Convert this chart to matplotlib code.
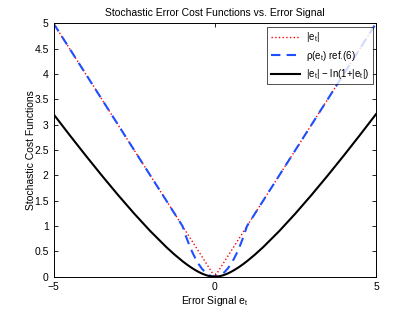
import matplotlib
matplotlib.use("Agg")
import matplotlib.pyplot as plt

# |e_t|
abs_e = [-5, 0, 5]
abs_v = [5, 0, 5]

# rho(e_t) ref.(6)
rho_e = [-5, -1, -0.9, -0.8, -0.7, -0.6, -0.5, -0.4, -0.3, -0.2, -0.1, 0,
         0.1, 0.2, 0.3, 0.4, 0.5, 0.6, 0.7, 0.8, 0.9, 1, 5]
rho_v = [5, 1, 0.81, 0.64, 0.49, 0.36, 0.25, 0.16, 0.09, 0.04, 0.01, 0,
         0.01, 0.04, 0.09, 0.16, 0.25, 0.36, 0.49, 0.64, 0.81, 1, 5]

# |e_t| - ln(1+|e_t|)
log_e = [-5, -4.5, -4, -3.5, -3, -2.5, -2, -1.5, -1.25, -1, -0.875, -0.75, -0.625,
         -0.5, -0.375, -0.25, -0.125, 0,
         0.125, 0.25, 0.375, 0.5, 0.625, 0.75, 0.875, 1, 1.25, 1.5, 2, 2.5, 3,
         3.5, 4, 4.5, 5]
log_v = [3.2082, 2.7953, 2.3906, 1.9959, 1.6137, 1.2472, 0.9014, 0.5837, 0.4391,
         0.3069, 0.2464, 0.1904, 0.1395, 0.0945, 0.0565, 0.0269, 0.0072, 0,
         0.0072, 0.0269, 0.0565, 0.0945, 0.1395, 0.1904, 0.2464, 0.3069, 0.4391,
         0.5837, 0.9014, 1.2472, 1.6137, 1.9959, 2.3906, 2.7953, 3.2082]

x_ticks = [-5, 0, 5]
y_ticks = [0, 0.5, 1, 1.5, 2, 2.5, 3, 3.5, 4, 4.5, 5]
y_ticklabels = ["0", "0.5", "1", "1.5", "2", "2.5", "3", "3.5", "4", "4.5", "5"]

plt.rcParams["font.family"] = ["Liberation Sans", "DejaVu Sans"]
plt.rcParams["mathtext.fontset"] = "custom"
plt.rcParams["mathtext.rm"] = "Liberation Sans"
plt.rcParams["mathtext.it"] = "Liberation Sans"
plt.rcParams["mathtext.default"] = "regular"

fig = plt.figure(figsize=(4.15, 3.12), dpi=100)
ax = fig.add_axes([0.129, 0.113, 0.777, 0.812])

ax.plot(abs_e, abs_v, color="red", linestyle=":", linewidth=1.0, label=r"$|e_t|$")
ax.plot(rho_e, rho_v, color="#1f4fff", linestyle=(0, (4.5, 3)), linewidth=1.5,
        label=r"$\rho(e_t)$ ref.(6)")
ax.plot(log_e, log_v, color="black", linestyle="-", linewidth=1.5,
        label=r"$|e_t|$ $-$ ln(1+$|e_t|$)")

ax.set_xlim(-5, 5)
ax.set_ylim(0, 5)
ax.set_xticks(x_ticks)
ax.set_yticks(y_ticks)
ax.set_yticklabels(y_ticklabels)
ax.tick_params(direction="in", top=True, right=True, labelsize=7.5, length=3, width=0.6)
for s in ax.spines.values():
    s.set_linewidth(0.7)

ax.set_title("Stochastic Error Cost Functions vs. Error Signal", fontsize=7.5, pad=5)
ax.set_xlabel(r"Error Signal $e_t$", fontsize=7.5, labelpad=2)
ax.set_ylabel("Stochastic Cost Functions", fontsize=7.5, labelpad=-1)

leg = ax.legend(loc="upper right", fontsize=7, frameon=True, fancybox=False,
                edgecolor="black", handlelength=3.0, handletextpad=0.6,
                borderaxespad=0.35, labelspacing=0.45, borderpad=0.35)
leg.get_frame().set_linewidth(0.6)

fig.savefig("out.png", dpi=100)
